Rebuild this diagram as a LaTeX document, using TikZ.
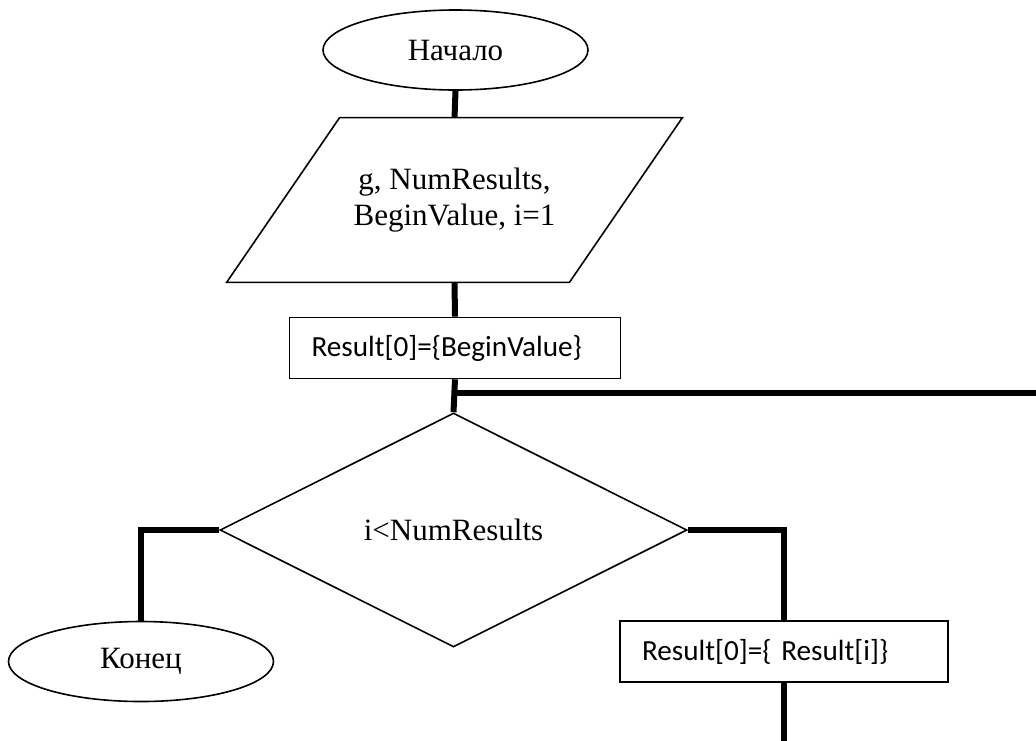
\documentclass[tikz,border=0pt]{standalone}
\usepackage{fontspec}
\setmainfont{Liberation Serif}
\newfontfamily\calib{Carlito}
\usetikzlibrary{shapes.geometric}
\begin{document}
\begin{tikzpicture}[x=0.5pt,y=-0.5pt,
  outline/.style={draw, line width=0.8pt, inner sep=0pt},
  serif/.style={font=\fontsize{15.5}{18}\selectfont},
  term/.style={outline, serif, ellipse, minimum width=132.5pt, minimum height=40pt},
  io/.style={serif, rectangle, inner sep=0pt, minimum width=227.5pt, minimum height=82pt, align=center},
  iobox/.style={line width=0.8pt},
  proc/.style={draw, line width=0.8pt, rectangle, minimum height=30.5pt, inner xsep=11pt,
     align=left, font=\calib\fontsize{14.6}{17}\selectfont},
  decision/.style={outline, serif, diamond, minimum width=233.5pt, minimum height=117pt},
  conn/.style={line width=3pt}
]
\useasboundingbox (0,0) rectangle (1036,740);

\node[term] (start) at (455.5,50) {Начало};
\node[io] (data) at (454.5,200) {g, NumResults,\\BeginValue, i=1};
\draw[iobox] ([xshift=56.5pt]data.north west) -- (data.north east)
   -- ([xshift=-56.5pt]data.south east) -- (data.south west) -- cycle;
\node[proc, text width=143.5pt] (init) at (455,348) {Result[0]=\{BeginValue\}};
\node[decision] (cond) at (453.5,530) {i<NumResults};
\node[term] (stop) at (141,661.5) {Конец};
\node[proc, text width=142pt] (upd) at (784,651.5) {Result[0]=\{ Result[i]\}};

\coordinate (loopin) at (455,393);
\coordinate (loopout) at (1040,393);
\coordinate (tail) at (784,745);

\draw[conn] (start.south) -- (data.north);
\draw[conn] (data.south) -- (init.north);
\draw[conn] (init.south) -- (cond.north);
\draw[conn] (loopin) -- (loopout);
\draw[conn] (cond.west) -| (stop.north);
\draw[conn] (cond.east) -| (upd.north);
\draw[conn] (upd.south) -- (tail);
\end{tikzpicture}
\end{document}
